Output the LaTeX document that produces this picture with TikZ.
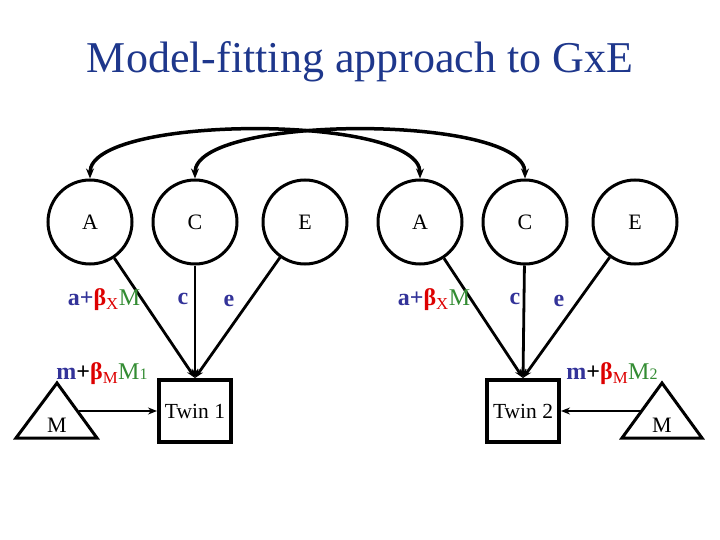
\documentclass[tikz,border=0pt]{standalone}
\usepackage{fontspec}
\setmainfont{Liberation Serif}
\usetikzlibrary{arrows.meta}
\definecolor{titleblue}{RGB}{30,55,140}
\definecolor{lblue}{RGB}{51,51,153}
\definecolor{lred}{RGB}{221,0,0}
\definecolor{lgreen}{RGB}{51,140,51}
\begin{document}
\begin{tikzpicture}[x=1pt,y=-1pt,
  latent/.style={circle,draw,line width=3pt,minimum size=84pt,inner sep=0pt,font=\fontsize{22}{25}\selectfont},
  twin/.style={rectangle,draw,line width=4pt,minimum width=72pt,minimum height=62pt,inner sep=0pt,font=\fontsize{21.5}{25}\selectfont},
  tri/.style={draw,line width=3pt,line join=miter},
  pathar/.style={line width=2.8pt,-{Stealth[length=9pt,width=7pt]}},
  cov/.style={line width=3.5pt,{Stealth[length=10pt,width=8pt]}-{Stealth[length=10pt,width=8pt]}},
  lab/.style={font=\fontsize{24}{27}\selectfont,inner sep=0pt},
  mlab/.style={font=\fontsize{22}{25}\selectfont,inner sep=0pt}]
\useasboundingbox (0,0) rectangle (720,540);
\node[font=\fontsize{44}{50}\selectfont,text=titleblue] (title) at (360,62) {Model-fitting approach to GxE};
% latent variables
\node[latent] (A1) at (90,222) {A};
\node[latent] (C1) at (195,222) {C};
\node[latent] (E1) at (305,222) {E};
\node[latent] (A2) at (420,222) {A};
\node[latent] (C2) at (525,222) {C};
\node[latent] (E2) at (635,222) {E};
% twins
\node[twin] (T1) at (195,411) {Twin 1};
\node[twin] (T2) at (523,411) {Twin 2};
% moderator triangles
\draw[tri] (57,383) -- (97,438) -- (16,438) -- cycle;
\draw[tri] (662,383) -- (702,438) -- (622,438) -- cycle;
\node[mlab] (M1) at (57,425) {M};
\node[mlab] (M2) at (662,425) {M};
\coordinate (m1out) at (79,411);
\coordinate (m2out) at (641,411);
% paths
\draw[pathar] (A1) -- (T1.north);
\draw[pathar] (C1) -- (T1.north);
\draw[pathar] (E1) -- (T1.north);
\draw[pathar] (A2) -- (T2.north);
\draw[pathar] (C2) -- (T2.north);
\draw[pathar] (E2) -- (T2.north);
\draw[pathar] (m1out) -- (T1.west);
\draw[pathar] (m2out) -- (T2.east);
% covariances
\draw[cov] (A1.north) .. controls (90,114) and (420,114) .. (A2.north);
\draw[cov] (C1.north) .. controls (195,114) and (525,114) .. (C2.north);
% labels
\node[lab] (la1) at (104,300) {\textcolor{lblue}{\textbf{a+}}\textcolor{lred}{\textbf{β}\textsubscript{X}}\textcolor{lgreen}{M}};
\node[lab] (lc1) at (183,299) {\textcolor{lblue}{\textbf{c}}};
\node[lab] (le1) at (229,301) {\textcolor{lblue}{\textbf{e}}};
\node[lab] (la2) at (434,300) {\textcolor{lblue}{\textbf{a+}}\textcolor{lred}{\textbf{β}\textsubscript{X}}\textcolor{lgreen}{M}};
\node[lab] (lc2) at (515,299) {\textcolor{lblue}{\textbf{c}}};
\node[lab] (le2) at (559,301) {\textcolor{lblue}{\textbf{e}}};
\node[lab] (lm1) at (102,374) {\textcolor{lblue}{\textbf{m}}\textbf{+}\textcolor{lred}{\textbf{β}\textsubscript{M}}\textcolor{lgreen}{M{\fontsize{16}{18}\selectfont 1}}};
\node[lab] (lm2) at (612,374) {\textcolor{lblue}{\textbf{m}}\textbf{+}\textcolor{lred}{\textbf{β}\textsubscript{M}}\textcolor{lgreen}{M{\fontsize{16}{18}\selectfont 2}}};
\end{tikzpicture}
\end{document}
